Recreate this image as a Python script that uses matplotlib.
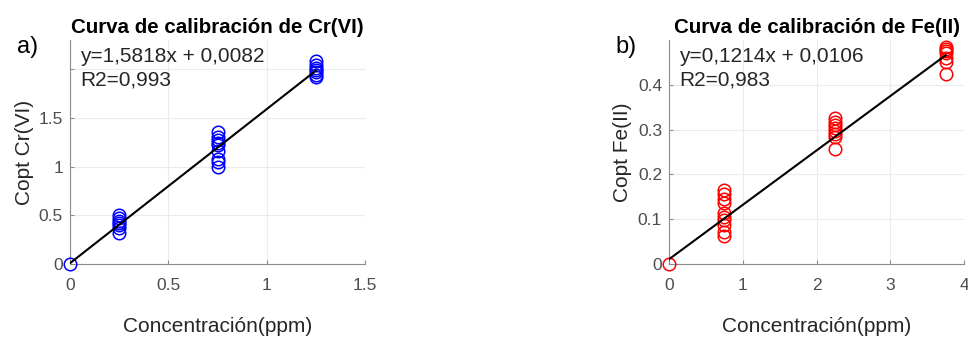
import matplotlib
matplotlib.use("Agg")
import matplotlib.pyplot as plt
import numpy as np

plt.rcParams['font.family'] = ['Liberation Sans', 'DejaVu Sans']

# Cr(VI) data
cr_x = [0, 0.25, 0.25, 0.25, 0.25, 0.25, 0.25, 0.25,
        0.75, 0.75, 0.75, 0.75, 0.75, 0.75, 0.75, 0.75, 0.75,
        1.25, 1.25, 1.25, 1.25, 1.25, 1.25, 1.25]
cr_y = [0, 0.50, 0.47, 0.44, 0.42, 0.40, 0.37, 0.32,
        1.36, 1.30, 1.27, 1.24, 1.16, 1.08, 1.05, 1.00, 1.22,
        2.08, 2.04, 2.01, 1.99, 1.97, 1.94, 1.92]
cr_slope, cr_inter = 1.5818, 0.0082
cr_eq = "y=1,5818x + 0,0082"
cr_r2 = "R2=0,993"

# Fe(II) data
fe_x = [0, 0.75, 0.75, 0.75, 0.75, 0.75, 0.75, 0.75, 0.75, 0.75, 0.75,
        2.25, 2.25, 2.25, 2.25, 2.25, 2.25, 2.25, 2.25,
        3.75, 3.75, 3.75, 3.75, 3.75, 3.75, 3.75]
fe_y = [0, 0.165, 0.156, 0.146, 0.137, 0.113, 0.106, 0.098, 0.087, 0.072, 0.062,
        0.326, 0.318, 0.310, 0.303, 0.296, 0.290, 0.284, 0.256,
        0.484, 0.480, 0.475, 0.470, 0.460, 0.452, 0.424]
fe_slope, fe_inter = 0.1214, 0.0106
fe_eq = "y=0,1214x + 0,0106"
fe_r2 = "R2=0,983"

W, H = 968, 338
fig = plt.figure(figsize=(W/100, H/100), dpi=100)

txt = '#262626'
tick_c = '#4d4d4d'

def setup(ax, xlim, ylim, xt, xtl, yt, ytl, ylabel, title, panel, px):
    ax.set_xlim(*xlim)
    ax.set_ylim(*ylim)
    ax.set_xticks(xt)
    ax.set_xticklabels(xtl)
    ax.set_yticks(yt)
    ax.set_yticklabels(ytl)
    ax.grid(True, color='#ebebeb', linewidth=0.8)
    ax.set_axisbelow(True)
    for s in ['top', 'right']:
        ax.spines[s].set_visible(False)
    for s in ['left', 'bottom']:
        ax.spines[s].set_color('#8c8c8c')
        ax.spines[s].set_linewidth(0.8)
    ax.tick_params(axis='both', direction='in', length=3, colors='#8c8c8c',
                   labelcolor=tick_c, labelsize=12.5)
    ax.tick_params(axis='x', pad=10)
    ax.tick_params(axis='y', pad=5)
    ax.set_xlabel("Concentración(ppm)", fontsize=15, color=txt, va='center')
    ax.xaxis.set_label_coords(0.5, -63/224)
    ax.set_ylabel(ylabel, fontsize=15, color=txt, va='center')
    ax.yaxis.set_label_coords(-46/295, 0.5)
    ax.set_title(title, fontsize=14.8, fontweight='bold', color='black', pad=5)
    fig.text(px, 1 - 47/H, panel, fontsize=17, color='black', ha='left', va='center')

ax1 = fig.add_axes([70/W, 74/H, 295/W, 224/H])
ax1.plot(cr_x, cr_y, 'o', mfc='none', mec='blue', ms=9, mew=1.1, clip_on=False, zorder=3)
xl = np.array([0, max(cr_x)])
ax1.plot(xl, cr_slope*xl + cr_inter, color='black', lw=1.5, zorder=4)
setup(ax1, (0, 1.5), (0, 2.3), [0, 0.5, 1, 1.5], ['0', '0.5', '1', '1.5'],
      [0, 0.5, 1, 1.5, 2], ['0', '0.5', '1', '1.5', ''],
      "Copt Cr(VI)", "Curva de calibración de Cr(VI)", "a)", 17/W)
ax1.text(10/295, 1 - 28/224, cr_eq + "\n" + cr_r2, transform=ax1.transAxes,
         fontsize=15, color=txt, va='center', ha='left', linespacing=1.3)

ax2 = fig.add_axes([669/W, 74/H, 295/W, 224/H])
ax2.plot(fe_x, fe_y, 'o', mfc='none', mec='red', ms=9, mew=1.1, clip_on=False, zorder=3)
xl = np.array([0, max(fe_x)])
ax2.plot(xl, fe_slope*xl + fe_inter, color='black', lw=1.5, zorder=4)
setup(ax2, (0, 4), (0, 0.5), [0, 1, 2, 3, 4], ['0', '1', '2', '3', '4'],
      [0, 0.1, 0.2, 0.3, 0.4], ['0', '0.1', '0.2', '0.3', '0.4'],
      "Copt Fe(II)", "Curva de calibración de Fe(II)", "b)", 615/W)
ax2.text(10/295, 1 - 28/224, fe_eq + "\n" + fe_r2, transform=ax2.transAxes,
         fontsize=15, color=txt, va='center', ha='left', linespacing=1.3)

fig.savefig("out.png", dpi=100)
